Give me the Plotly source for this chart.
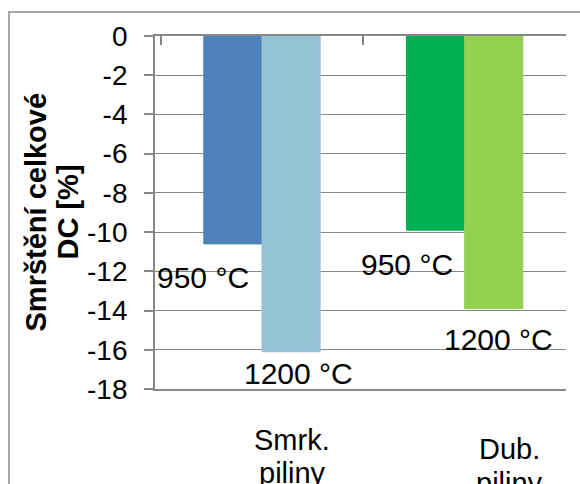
import plotly.graph_objects as go

# Shrinkage of the total DC for two sawdust types, fired at two temperatures
categories = ["Smrk. piliny", "Dub. piliny"]
category_lines = [["Smrk.", "piliny"], ["Dub.", "piliny"]]
temperatures = ["950 °C", "1200 °C"]
shrinkage_950 = [-10.6, -9.9]
shrinkage_1200 = [-16.1, -13.9]
y_ticks = [0, -2, -4, -6, -8, -10, -12, -14, -16, -18]

colors_950 = ["#4F81BD", "#00B050"]
colors_1200 = ["#93C3D5", "#92D050"]
edge_950 = ["#3F8A9C", "#00B050"]
edge_1200 = ["#9DBBE0", "#92D050"]

FONT = "Liberation Sans, Arial, sans-serif"
GRID = "#878787"

fig = go.Figure()
fig.add_trace(go.Bar(x=categories, y=shrinkage_950, name=temperatures[0],
                     marker=dict(color=colors_950, line=dict(color=edge_950, width=1))))
fig.add_trace(go.Bar(x=categories, y=shrinkage_1200, name=temperatures[1],
                     marker=dict(color=colors_1200, line=dict(color=edge_1200, width=1))))

# temperature labels, placed below the end of each bar
label_offsets_950 = [(-59, -34), (-58, -34)]
label_offsets_1200 = [(36, -22), (34, -31)]
for i, cat in enumerate(categories):
    pairs = ((temperatures[0], shrinkage_950[i], label_offsets_950[i]),
             (temperatures[1], shrinkage_1200[i], label_offsets_1200[i]))
    for text, val, (dx, dy) in pairs:
        fig.add_annotation(x=cat, y=val, xref="x", yref="y", text=text,
                           showarrow=False, xanchor="center", yanchor="middle",
                           xshift=dx, yshift=dy,
                           font=dict(family=FONT, size=30, color="#000000"))

# category names under the plot area, one annotation per text line
cat_offsets = [(30, (-51, -84)), (45, (-60, -94))]
for cat, lines, (dx, dys) in zip(categories, category_lines, cat_offsets):
    for line, dy in zip(lines, dys):
        fig.add_annotation(x=cat, y=0, xref="x", yref="paper", text=line,
                           showarrow=False, xanchor="center", yanchor="middle",
                           xshift=dx, yshift=dy,
                           font=dict(family=FONT, size=29, color="#000000"))

# y axis title, two lines
for line, dx in (("Smrštění celkové", -120), ("DC [%]", -88)):
    fig.add_annotation(x=0, y=0.5, xref="paper", yref="paper", text=f"<b>{line}</b>",
                       showarrow=False, textangle=-90, xanchor="center", yanchor="middle",
                       xshift=dx, font=dict(family=FONT, size=29, color="#000000"))

# chart frame
fig.add_shape(type="rect", xref="paper", yref="paper",
              x0=-0.3552, x1=1.3, y0=-0.6, y1=1.068,
              line=dict(color="#8C8C8C", width=1.5), fillcolor="rgba(0,0,0,0)", layer="below")

fig.update_layout(
    width=580, height=484,
    margin=dict(l=155, r=14, t=36, b=95),
    paper_bgcolor="white", plot_bgcolor="white",
    barmode="group", bargap=0.426, bargroupgap=0,
    showlegend=False,
    font=dict(family=FONT, size=28, color="#000000"),
    xaxis=dict(side="top", showticklabels=False, ticks="inside", tickson="boundaries",
               ticklen=9, tickwidth=1.5, tickcolor=GRID,
               showline=True, linecolor=GRID, linewidth=1.8, mirror=True,
               showgrid=False, zeroline=False),
    yaxis=dict(range=[-18, 0], tickvals=y_ticks, ticktext=[str(v) for v in y_ticks],
               ticks="outside", ticklen=9, tickwidth=1.5, tickcolor=GRID,
               ticklabelstandoff=11,
               showline=True, linecolor=GRID, linewidth=1.8,
               showgrid=True, gridcolor=GRID, gridwidth=1.3, zeroline=False,
               tickfont=dict(family=FONT, size=28, color="#000000")),
)

fig.write_html("out.html", config={"displayModeBar": False})
